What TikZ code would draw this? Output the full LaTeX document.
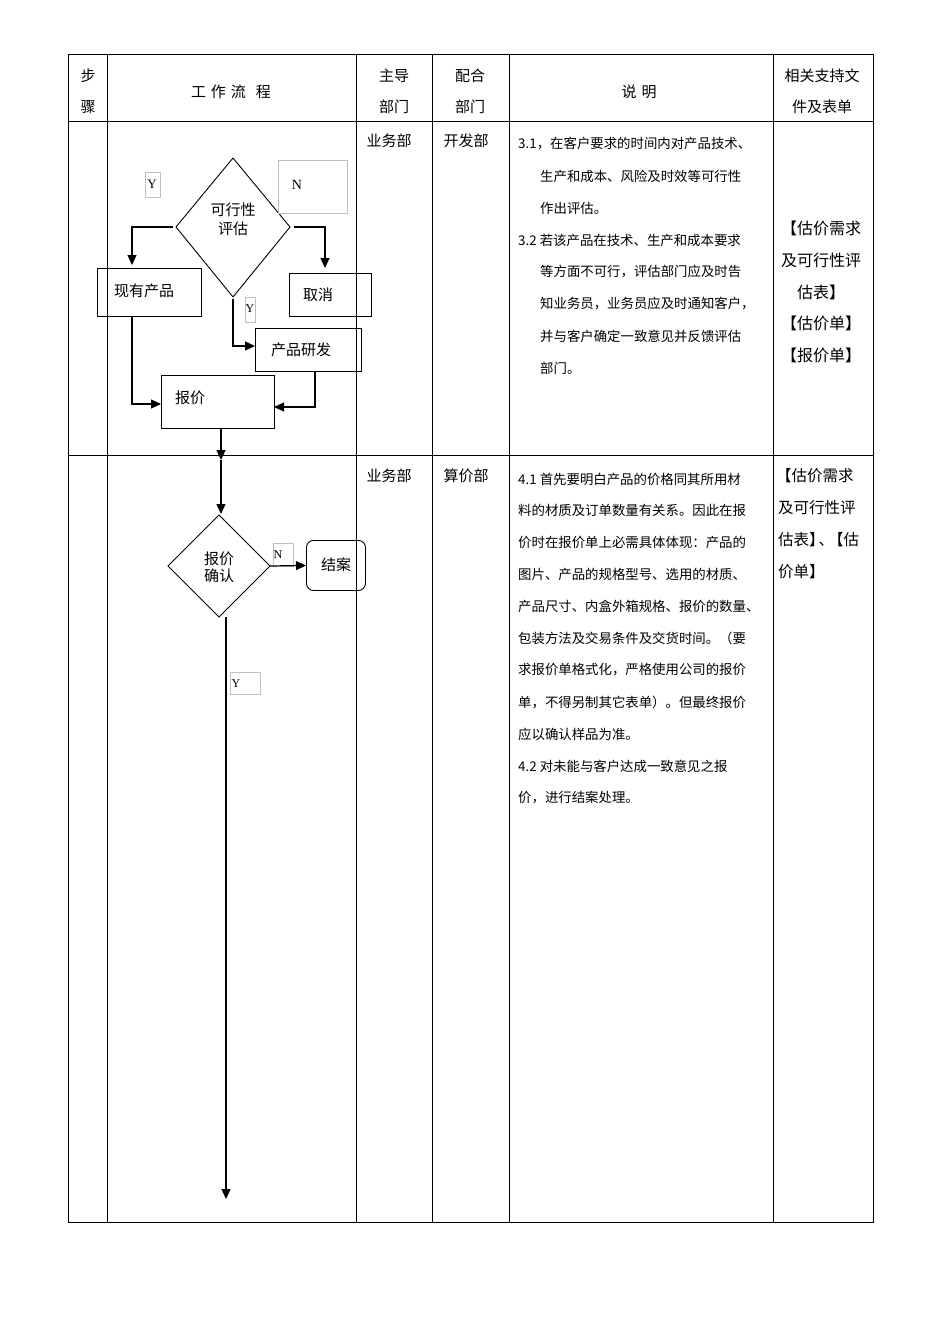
\documentclass[tikz,border=0pt]{standalone}
\usepackage{fontspec}
\setmainfont{Liberation Serif}
\newfontfamily\cjk{Noto Sans CJK SC}
\usetikzlibrary{arrows.meta}
\tikzset{
 box/.style={draw,line width=0.9pt,inner sep=0,anchor=north west},
 lbl/.style={draw=black!25,line width=0.5pt,inner sep=0,anchor=north west},
 arr/.style={line width=1.2pt,-{Triangle[length=10pt,width=9pt]}},
 hd/.style={font=\cjk\fontsize{15}{15}\selectfont,inner sep=0},
 ds/.style={font=\cjk\fontsize{13.4}{13.4}\selectfont,inner sep=0,anchor=west},
 dd/.style={font=\cjk\fontsize{16}{16}\selectfont,inner sep=0},
 ft/.style={font=\cjk\fontsize{15}{15}\selectfont,inner sep=0}
}
\begin{document}
\begin{tikzpicture}[x=1pt,y=-1pt]
\fill[white] (0,0) rectangle (950,1344);
\useasboundingbox (0,0) rectangle (950,1344);
% table
\draw[line width=0.8pt] (68,54) rectangle (873,1222);
\foreach \x in {107,356,432,509,773} \draw[line width=0.8pt] (\x,54) -- (\x,1222);
\draw[line width=0.8pt] (68,121) -- (873,121);
\draw[line width=0.8pt] (68,455) -- (873,455);
% header
\node[hd] (h1a) at (88,76) {步};
\node[hd] (h1b) at (88,107) {骤};
\node[hd] (h2) at (231,92) {工\,\,作\,\,流\,\,\,\,程};
\node[hd] (h3a) at (394,76) {主导};
\node[hd] (h3b) at (394,107) {部门};
\node[hd] (h4a) at (470,76) {配合};
\node[hd] (h4b) at (470,107) {部门};
\node[hd] (h5) at (639,92) {说\,\,明};
\node[hd] (h6a) at (822,76) {相关支持文};
\node[hd] (h6b) at (822,107) {件及表单};
% departments
\node[hd] (d1) at (389,141) {业务部};
\node[hd] (d2) at (466,141) {开发部};
\node[hd] (d3) at (389,476) {业务部};
\node[hd] (d4) at (466,476) {算价部};
% descriptions row1
\node[ds] at (518,144) {3.1，在客户要求的时间内对产品技术、};
\node[ds] at (540,176) {生产和成本、风险及时效等可行性};
\node[ds] at (540,208) {作出评估。};
\node[ds] at (518,240) {3.2 若该产品在技术、生产和成本要求};
\node[ds] at (540,272) {等方面不可行，评估部门应及时告};
\node[ds] at (540,304) {知业务员，业务员应及时通知客户，};
\node[ds] at (540,336) {并与客户确定一致意见并反馈评估};
\node[ds] at (540,368) {部门。};
% descriptions row2
\node[ds] at (518,479) {4.1 首先要明白产品的价格同其所用材};
\node[ds] at (518,510) {料的材质及订单数量有关系。因此在报};
\node[ds] at (518,542) {价时在报价单上必需具体体现：产品的};
\node[ds] at (518,574) {图片、产品的规格型号、选用的材质、};
\node[ds] at (518,606) {产品尺寸、内盒外箱规格、报价的数量、};
\node[ds] at (518,638) {包装方法及交易条件及交货时间。（要};
\node[ds] at (518,670) {求报价单格式化，严格使用公司的报价};
\node[ds] at (518,702) {单，不得另制其它表单）。但最终报价};
\node[ds] at (518,734) {应以确认样品为准。};
\node[ds] at (518,766) {4.2 对未能与客户达成一致意见之报};
\node[ds] at (518,798) {价，进行结案处理。};
% documents
\node[dd] at (821,228) {【估价需求};
\node[dd] at (821,260) {及可行性评};
\node[dd] at (821,292) {估表】};
\node[dd] at (821,323) {【估价单】};
\node[dd] at (821,355) {【报价单】};
\node[dd,anchor=west,font=\cjk\fontsize{15.5}{15.5}\selectfont] at (776,476) {【估价需求};
\node[dd,anchor=west,font=\cjk\fontsize{15.5}{15.5}\selectfont] at (778,508) {及可行性评};
\node[dd,anchor=west,font=\cjk\fontsize{15.5}{15.5}\selectfont] at (778,540) {估表】\hspace{-6pt}、\hspace{-6pt}【估};
\node[dd,anchor=west,font=\cjk\fontsize{15.5}{15.5}\selectfont] at (778,572) {价单】};
% flow row1
\draw[line width=0.9pt] (233,158) -- (290,227) -- (233,297) -- (176,227) -- cycle;
\node[ft,align=center] (feas) at (233,219) {可行性\\[4pt]评估};
\node[lbl,minimum width=15pt,minimum height=25pt] (y1) at (145,172) {};
\node[font=\fontsize{13}{13}\selectfont] at (152,184) {Y};
\node[lbl,minimum width=69pt,minimum height=53pt] (n1) at (278,160) {};
\node[font=\fontsize{14}{14}\selectfont] at (297,185) {N};
\node[box,minimum width=104pt,minimum height=48pt] (exist) at (97,268) {};
\node[ft] at (144,291) {现有产品};
\node[box,minimum width=82pt,minimum height=43pt] (cancel) at (289,273) {};
\node[ft] at (318,295) {取消};
\node[lbl,minimum width=10pt,minimum height=25pt] (y2) at (245,297) {};
\node[font=\fontsize{12}{12}\selectfont] at (250,309) {Y};
\node[box,minimum width=106pt,minimum height=43pt] (dev) at (255,328) {};
\node[ft] at (301,350) {产品研发};
\node[box,minimum width=113pt,minimum height=53pt] (quote) at (161,375) {};
\node[ft] at (190,398) {报价};
\draw[arr] (173,227) -| (132,265);
\draw[arr] (294,227) -| (325,268);
\draw[arr] (233,299) |- (255,346);
\draw[arr] (132,316) |- (161,404);
\draw[arr] (315,371) |- (274,407);
\draw[arr] (221,428) -- (221,460);
% flow row2
\draw[arr] (221,460) -- (221,514);
\draw[line width=0.9pt] (219,515) -- (270,566) -- (219,617) -- (168,566) -- cycle;
\node[ft,align=center] at (219,567) {报价\\[2pt]确认};
\node[lbl,minimum width=20pt,minimum height=23pt] (n2) at (273,543) {};
\node[font=\fontsize{12}{12}\selectfont] at (278,555) {N};
\node[draw,line width=0.9pt,rounded corners=7pt,minimum width=59pt,minimum height=50pt,inner sep=0,anchor=north west] (close) at (306,540) {};
\node[ft] at (336,565) {结案};
\draw[arr] (270,566) -- (close.west);
\node[lbl,minimum width=30pt,minimum height=22pt] (y3) at (230,672) {};
\node[font=\fontsize{12}{12}\selectfont] at (236,684) {Y};
\draw[arr] (226,617) -- (226,1199);
\end{tikzpicture}
\end{document}
